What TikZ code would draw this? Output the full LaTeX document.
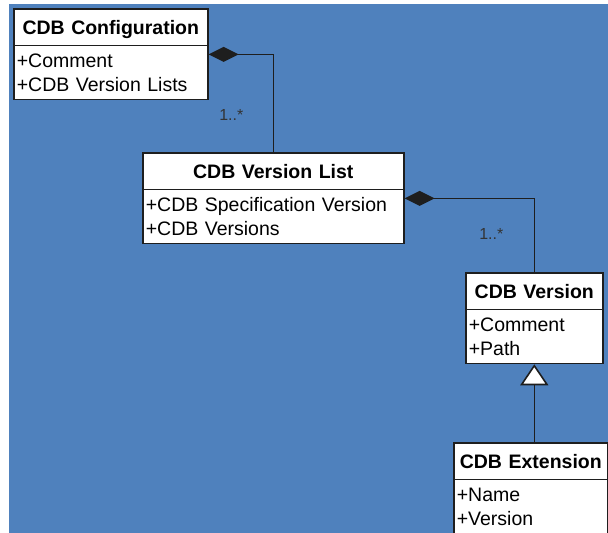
\documentclass[tikz,border=0pt]{standalone}
\usepackage{fontspec}
\setmainfont{Liberation Sans}
\usepackage{tikz}
\usetikzlibrary{positioning,shapes,arrows.meta}
\definecolor{umlblue}{RGB}{79,129,189}
\definecolor{umlline}{RGB}{30,30,30}
\newcommand{\umltitle}[1]{{\centering\bfseries\rule[-10pt]{0pt}{35pt}#1\par}}
\newcommand{\umlattr}[2]{\rule{0pt}{21pt}#1\\#2\rule[-7.5pt]{0pt}{7.5pt}}

\begin{document}
\begin{tikzpicture}[x=1pt,y=-1pt,
	umlclass/.style={rectangle split,rectangle split parts=2,draw=umlline,fill=white,line width=1.6pt,inner xsep=3pt,inner ysep=0pt,align=left,anchor=north west,font=\fontsize{19.5}{24}\selectfont},
	mult/.style={font=\fontsize{16}{16}\selectfont,text=black!80},
	comp/.style={{Diamond[length=30pt,width=15pt]}-,line width=1.6pt,draw=umlline},
	gen/.style={-{Triangle[length=21pt,width=28pt,fill=white]},line width=1.6pt,draw=umlline}]
	\useasboundingbox (0,0) rectangle (608,533);
	\fill[umlblue] (9,4) rectangle (608,533);
	
	\node[umlclass,text width=188pt] (config) at (13,8) {\umltitle{CDB Configuration}\nodepart{two}\umlattr{+Comment}{+CDB Version Lists}};
	\node[umlclass,text width=255pt] (vlist) at (142,152) {\umltitle{CDB Version List}\nodepart{two}\umlattr{+CDB Specification Version}{+CDB Versions}};
	\node[umlclass,text width=131pt] (version) at (465,272) {\umltitle{CDB Version}\nodepart{two}\umlattr{+Comment}{+Path}};
	\node[umlclass,text width=148pt] (ext) at (453,442) {\umltitle{CDB Extension}\nodepart{two}\umlattr{+Name}{+Version}};
	
	\draw [comp] ([yshift=-9pt]config.text split east) -| (vlist.north);
	\draw [comp] ([yshift=-9pt]vlist.text split east) -| (version.north);
	\draw [gen] (version.south |- ext.north) -- (version.south);
	
	\node[mult] (mult1) at ([xshift=-42pt,yshift=37pt]vlist.north) {1..*};
	\node[mult] (mult2) at ([xshift=-43pt,yshift=38pt]version.north) {1..*};
\end{tikzpicture}
\end{document}
